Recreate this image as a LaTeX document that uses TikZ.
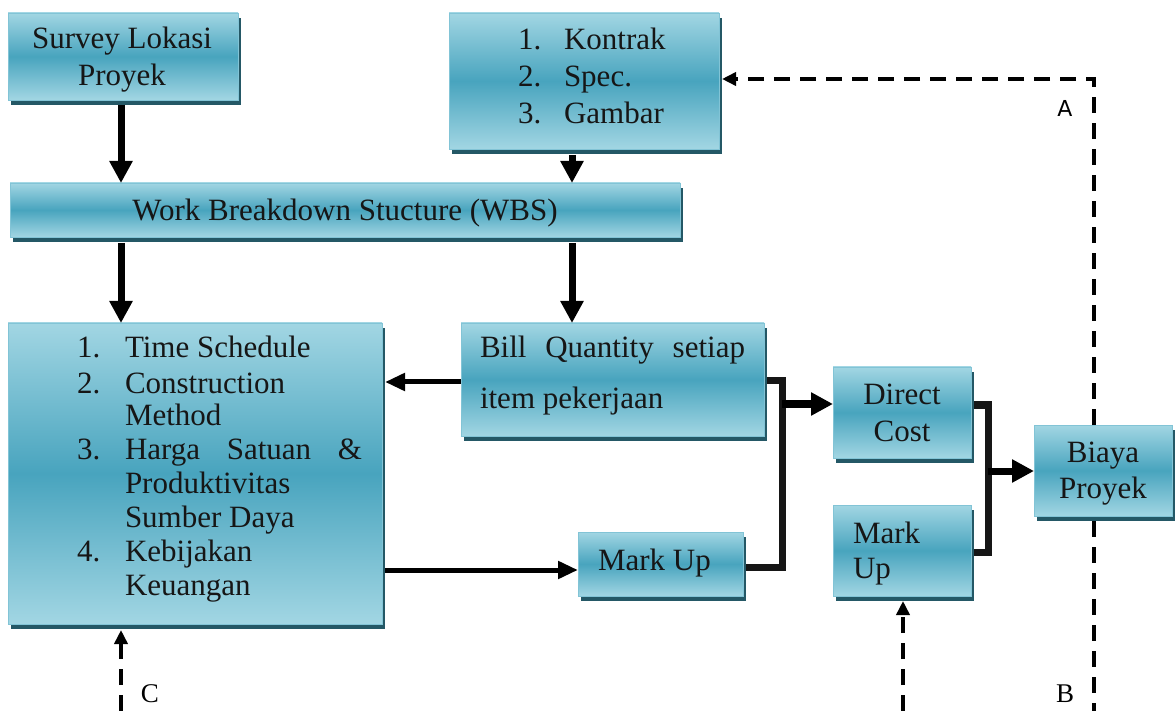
\documentclass[tikz,border=0pt]{standalone}
\usepackage{fontspec}
\setmainfont{Liberation Serif}
\newfontfamily\labelsans{DejaVu Sans}
\usetikzlibrary{arrows.meta,backgrounds,calc}

\definecolor{boxlight}{RGB}{162,214,227}
\definecolor{boxmid}{RGB}{72,164,190}
\definecolor{boxedge}{RGB}{130,196,214}
\definecolor{shadowc}{RGB}{36,88,102}
\definecolor{inkc}{RGB}{22,22,22}

\tikzset{
  box/.style={rectangle, inner sep=0pt, outer sep=0pt,
    top color=boxlight, bottom color=boxlight, middle color=boxmid,
    draw=boxedge, line width=0.6pt},
  txt/.style={inner sep=0pt, outer sep=0pt, text=inkc,
    font=\fontsize{31}{36}\selectfont},
  flow/.style={line width=7pt, draw=black,
    -{Triangle[length=22pt,width=22pt]}},
  flowthin/.style={line width=5pt, draw=black,
    -{Triangle[length=20pt,width=17pt]}},
  feed/.style={line width=7pt, draw=inkc, line join=miter},
  dashline/.style={line width=4pt, draw=black, dash pattern=on 16pt off 10pt},
  dasharrow/.style={dashline, -{Triangle[length=14pt,width=13pt]}},
  lblsans/.style={inner sep=0pt, text=black, font=\labelsans\fontsize{22}{26}\selectfont},
  lblserif/.style={inner sep=0pt, text=black, font=\fontsize{27}{30}\selectfont},
}

\begin{document}
\begin{tikzpicture}[x=1pt, y=-1pt]
\useasboundingbox (0,0) rectangle (1176,711);

% boxes
\node[box, minimum width=230pt, minimum height=87pt]  (survey)  at (123,56.5)  {};
\node[box, minimum width=270pt, minimum height=136pt] (kontrak) at (584,81)    {};
\node[box, minimum width=670pt, minimum height=54pt]  (wbs)     at (345,210)   {};
\node[box, minimum width=374pt, minimum height=301pt] (left)    at (195,473.5) {};
\node[box, minimum width=303pt, minimum height=113pt] (bill)    at (612.5,379.5) {};
\node[box, minimum width=165pt, minimum height=64pt]  (markup)  at (660.5,564)   {};
\node[box, minimum width=138pt, minimum height=91pt]  (direct)  at (902,412.5)   {};
\node[box, minimum width=138pt, minimum height=91pt]  (markupr) at (902,550.5)   {};
\node[box, minimum width=138pt, minimum height=91pt]  (biaya)   at (1103,470.5)  {};

% drop shadows and page background
\begin{scope}[on background layer]
  \fill[white] (0,0) rectangle (1176,711);
  \foreach \n in {survey,kontrak,wbs,left,bill,markup,direct,markupr,biaya}
    \fill[shadowc] ($(\n.south west)+(3,5)$) rectangle ($(\n.north east)+(3,5)$);
\end{scope}

% box texts
\node[txt, anchor=base] (s1) at (122,49) {Survey Lokasi};
\node[txt, anchor=base] (s2) at (122,86) {Proyek};

\node[txt, anchor=base west] (k1n) at (518,50)  {1.};
\node[txt, anchor=base west] (k1)  at (564,50)  {Kontrak};
\node[txt, anchor=base west] (k2n) at (518,87)  {2.};
\node[txt, anchor=base west] (k2)  at (564,87)  {Spec.};
\node[txt, anchor=base west] (k3n) at (518,124) {3.};
\node[txt, anchor=base west] (k3)  at (564,124) {Gambar};

\node[txt, anchor=base] (w1) at (345,221) {Work Breakdown Stucture (WBS)};

\node[txt, anchor=base west] (l1n) at (77,358)  {1.};
\node[txt, anchor=base west] (l1)  at (125,358) {Time Schedule};
\node[txt, anchor=base west] (l2n) at (77,393)  {2.};
\node[txt, anchor=base west] (l2)  at (125,393) {Construction};
\node[txt, anchor=base west] (l2b) at (125,425) {Method};
\node[txt, anchor=base west] (l3n) at (77,459)  {3.};
\node[txt, anchor=base west] (l3)  at (125,459) {\makebox[237pt][s]{Harga Satuan \&}};
\node[txt, anchor=base west] (l3b) at (125,493) {Produktivitas};
\node[txt, anchor=base west] (l3c) at (125,527) {Sumber Daya};
\node[txt, anchor=base west] (l4n) at (77,561)  {4.};
\node[txt, anchor=base west] (l4)  at (125,561) {Kebijakan};
\node[txt, anchor=base west] (l4b) at (125,595) {Keuangan};

\node[txt, anchor=base west] (b1) at (480,358) {\makebox[265pt][s]{Bill Quantity setiap}};
\node[txt, anchor=base west] (b2) at (480,408) {item pekerjaan};

\node[txt, anchor=base west] (m1) at (598,570) {Mark Up};

\node[txt, anchor=base] (d1) at (902,405) {Direct};
\node[txt, anchor=base] (d2) at (902,442) {Cost};

\node[txt, anchor=base west] (r1) at (853,543) {Mark};
\node[txt, anchor=base west] (r2) at (853,578) {Up};

\node[txt, anchor=base] (p1) at (1103,462) {Biaya};
\node[txt, anchor=base] (p2) at (1103,498) {Proyek};

% reference columns and rows for the connectors
\coordinate (colL) at (121,0);
\coordinate (colM) at (572,0);
\coordinate (colR) at (903,0);
\coordinate (bottom) at (0,711);
\coordinate (rowB) at (0,382);
\coordinate (rowM) at (0,570);
\coordinate (j1top) at (782,381);
\coordinate (j1bot) at (782,567);
\coordinate (j1mid) at (782,404);
\coordinate (j2top) at (988,405);
\coordinate (j2bot) at (988,552);
\coordinate (j2mid) at (988,471);
\coordinate (dA) at (1094,79);

% main flow
\draw[flow] ($(survey.south -| colL)+(0,5)$) -- (wbs.north -| colL);
\draw[flow] ($(kontrak.south -| colM)+(0,6)$) -- (wbs.north -| colM);
\draw[flow] ($(wbs.south -| colL)+(0,6)$) -- (left.north -| colL);
\draw[flow] ($(wbs.south -| colM)+(0,6)$) -- (bill.north -| colM);
\draw[flowthin] (bill.west |- rowB) -- ($(left.east |- rowB)+(3,0)$);
\draw[flowthin] ($(left.east |- rowM)+(3,0)$) -- (markup.west |- rowM);

% merging connectors
\draw[feed] ($(bill.east |- j1top)+(3,0)$) -- (j1top) -- (j1bot) -- ($(markup.east |- j1bot)+(3,0)$);
\draw[flow] (j1mid) -- (direct.west |- j1mid);
\draw[feed] ($(direct.east |- j2top)+(3,0)$) -- (j2top) -- (j2bot) -- ($(markupr.east |- j2bot)+(3,0)$);
\draw[flow] (j2mid) -- (biaya.west |- j2mid);

% feedback loops
\draw[dasharrow] (biaya.north -| dA) -- (dA) -- ($(kontrak.east |- dA)+(3,0)$);
\draw[dashline] ($(biaya.south -| dA)+(0,5)$) -- (dA |- bottom);
\draw[dasharrow] (colL |- bottom) -- ($(left.south -| colL)+(0,6)$);
\draw[dasharrow] (colR |- bottom) -- ($(markupr.south -| colR)+(0,5)$);

% loop labels
\node[lblsans]  (la) at (1065,108) {A};
\node[lblserif] (lb) at (1065,694) {B};
\node[lblserif] (lc) at (150,694)  {C};
\end{tikzpicture}
\end{document}
